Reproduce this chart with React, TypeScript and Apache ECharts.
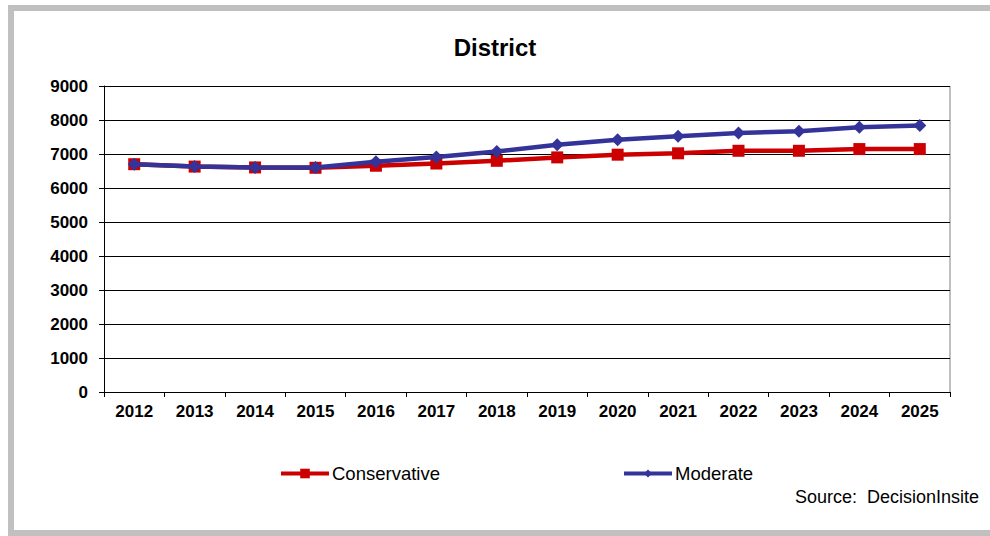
import React, { useEffect, useRef } from "react";
import * as echarts from "echarts";

const years = ["2012","2013","2014","2015","2016","2017","2018","2019","2020","2021","2022","2023","2024","2025"];
const conservative = [6700, 6630, 6605, 6595, 6655, 6720, 6800, 6900, 6980, 7020, 7095, 7095, 7145, 7145];
const moderate = [6700, 6630, 6605, 6600, 6770, 6910, 7075, 7275, 7420, 7520, 7620, 7670, 7785, 7835];
const yTicks = { min: 0, max: 9000, interval: 1000 };

export default function App() {
  const ref = useRef<HTMLDivElement>(null);
  useEffect(() => {
    const chart = echarts.init(ref.current!, undefined, { renderer: "svg" });
    const font = "Arial, 'Liberation Sans', sans-serif";
    chart.setOption({
      animation: false,
      backgroundColor: "#fff",
      textStyle: { fontFamily: font },
      title: {
        text: "District",
        left: "center",
        top: 30,
        textStyle: { fontSize: 24, fontWeight: "bold", color: "#000", fontFamily: font },
      },
      grid: { left: 104, right: 40, top: 86, bottom: 144 },
      legend: [
        {
          data: ["Conservative"],
          left: 274,
          top: 459,
          itemWidth: 48,
          itemHeight: 12,
          itemGap: 0,
          lineStyle: { width: 4 },
          textStyle: { fontSize: 18.5, color: "#000", fontFamily: font, padding: [0, 0, 0, -2] },
        },
        {
          data: ["Moderate"],
          left: 617,
          top: 459,
          itemWidth: 48,
          itemHeight: 10,
          itemGap: 0,
          lineStyle: { width: 4 },
          textStyle: { fontSize: 18.5, color: "#000", fontFamily: font, padding: [0, 0, 0, -2] },
        },
      ],
      xAxis: {
        type: "category",
        data: years,
        boundaryGap: true,
        axisLine: { lineStyle: { color: "#000", width: 1 } },
        axisTick: { show: true, inside: false, length: 5, lineStyle: { color: "#000" } },
        axisLabel: { fontSize: 17, fontWeight: "bold", color: "#000", margin: 11, fontFamily: font },
      },
      yAxis: {
        type: "value",
        min: yTicks.min,
        max: yTicks.max,
        interval: yTicks.interval,
        axisLine: { show: true, lineStyle: { color: "#000", width: 1 } },
        axisTick: { show: true, length: 5, lineStyle: { color: "#000" } },
        axisLabel: {
          fontSize: 17,
          fontWeight: "bold",
          color: "#000",
          margin: 16,
          fontFamily: font,
          formatter: (v: number) => String(v),
        },
        splitLine: { show: true, lineStyle: { color: "#000", width: 1 } },
      },
      series: [
        {
          name: "Conservative",
          type: "line",
          data: conservative,
          symbol: "rect",
          symbolSize: 12,
          lineStyle: { color: "#CC0000", width: 4.5 },
          itemStyle: { color: "#CC0000" },
          z: 2,
        },
        {
          name: "Moderate",
          type: "line",
          data: moderate,
          symbol: "diamond",
          symbolSize: 13,
          lineStyle: { color: "#333399", width: 4.5 },
          itemStyle: { color: "#333399" },
          z: 3,
        },
      ],
      graphic: [
        {
          type: "rect",
          shape: { x: 11, y: 8, width: 990, height: 525 },
          style: { fill: "none", stroke: "#c0c0c0", lineWidth: 6 },
          silent: true,
        },
        {
          type: "line",
          shape: { x1: 950, y1: 86, x2: 950, y2: 392 },
          style: { stroke: "#808080", lineWidth: 1 },
          silent: true,
        },
        {
          type: "text",
          right: 11,
          top: 488,
          style: { text: "Source:  DecisionInsite", fontSize: 18, fill: "#000", fontFamily: font },
        },
      ],
    });
    return () => chart.dispose();
  }, []);
  return <div ref={ref} style={{ position: "absolute", left: 0, top: 0, width: 990, height: 536 }} />;
}
